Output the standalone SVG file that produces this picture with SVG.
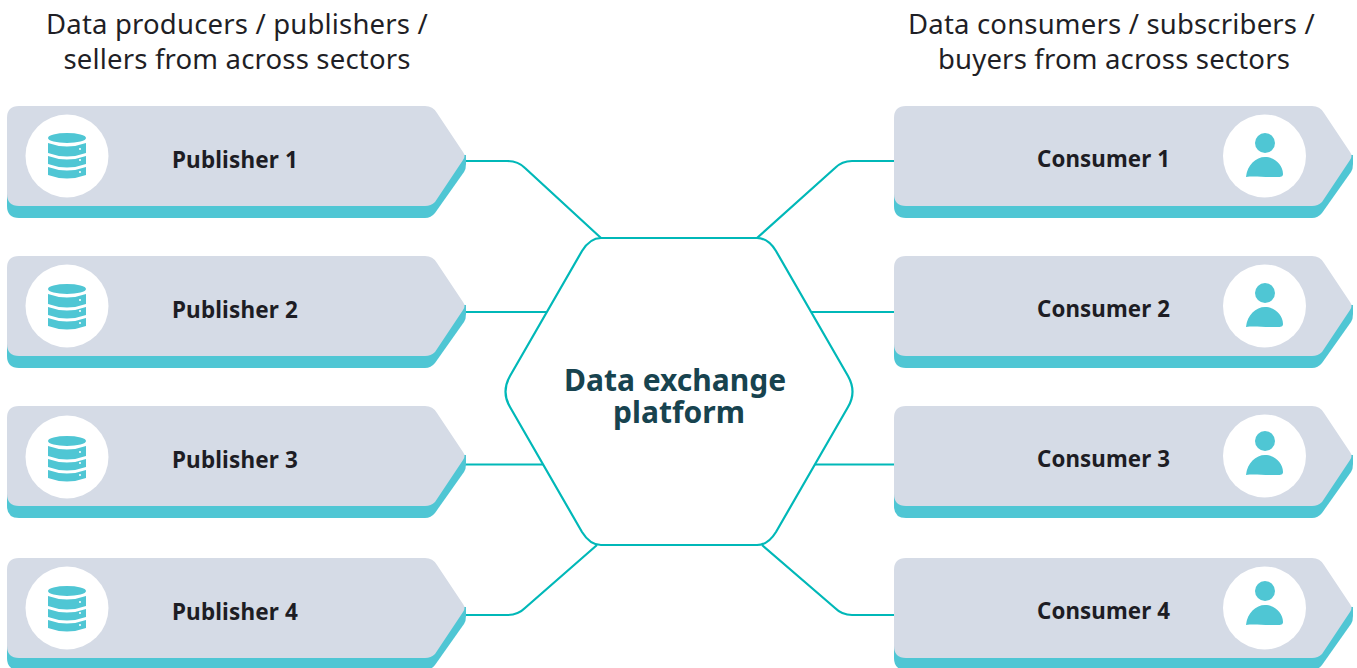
<svg xmlns="http://www.w3.org/2000/svg" width="1357" height="668" viewBox="0 0 1357 668">
<style>
text{font-family:"Noto Sans","Open Sans","Liberation Sans",sans-serif}
.head{font-size:27.5px;letter-spacing:.18px;fill:#1f1f26;text-anchor:middle}
.label{font-size:22.500px;letter-spacing:.15px;font-weight:700;fill:#1d1d24}
.cons{font-size:22.300px;letter-spacing:.1px}
.center{font-size:30px;font-weight:700;fill:#17434f;text-anchor:middle}
.conn{fill:none;stroke:#00b8b8;stroke-width:2.2}
.face{fill:#d5dbe6}
.edge{fill:#4fc6d4}
.disc{fill:#fff}
.hex{fill:#fff;stroke:#00b8b8;stroke-width:2.2}
</style>
<defs>
<g id="boxshape">
<path class="edge" d="M0 22V100Q0 112 12 112H418Q424 112 428 107L457 66Q459 63 459 58V49Z"/>
<path class="face" d="M12 0H418Q426 0 430 7L456 46Q459 50 456 54L428 96Q424 100 418 100H12Q0 100 0 88V12Q0 0 12 0Z"/>
</g>
<g id="db">
<ellipse class="edge" cx="0" cy="-18" rx="19" ry="5"/>
<path class="edge" d="M-19-13Q0-6 19-13V-3Q0 4-19-3Z"/>
<path class="edge" d="M-19 0Q0 7 19 0V8Q0 15-19 8Z"/>
<path class="edge" d="M-19 11Q0 18 19 11V19Q0 26-19 19Z"/>
<circle class="disc" cx="13" cy="-7" r="1"/><circle class="disc" cx="13" cy="4" r="1"/><circle class="disc" cx="13" cy="16" r="1"/>
</g>
<g id="person">
<circle class="edge" cx="0" cy="-12" r="10"/>
<path class="edge" d="M-19 22C-18 10-9 2 0 2C10 2 18 10 18 19C18 23 13 22 5 22C-4 22-12 21-19 22Z"/>
</g>
</defs>

<g id="connectors">
<path class="conn" d="M465 161H507Q518 161 525 168L601 238"/>
<path class="conn" d="M465 312H547"/>
<path class="conn" d="M465 464.500H543"/>
<path class="conn" d="M465 615H507Q518 615 525 608L597 545"/>
<path class="conn" d="M894 161H852Q842 161 835 168L757 238"/>
<path class="conn" d="M894 312H811"/>
<path class="conn" d="M894 464.500H815"/>
<path class="conn" d="M894 615H852Q842 615 835 608L762 545"/>
</g>

<g id="header-left"><text class="head" x="237" y="33.500">Data producers / publishers /</text><text class="head" x="237" y="68.500">sellers from across sectors</text></g>
<g id="header-right"><text class="head" x="1111.500" y="33.500">Data consumers / subscribers /</text><text class="head" x="1114" y="68.500">buyers from across sectors</text></g>

<g id="publisher-1"><use href="#boxshape" x="7" y="106"/><circle class="disc" cx="67" cy="156" r="41.500"/><use href="#db" x="67" y="156"/><text class="label" x="172" y="168">Publisher 1</text></g>
<g id="publisher-2"><use href="#boxshape" x="7" y="256"/><circle class="disc" cx="67" cy="306" r="41.500"/><use href="#db" x="67" y="307"/><text class="label" x="172" y="318">Publisher 2</text></g>
<g id="publisher-3"><use href="#boxshape" x="7" y="406"/><circle class="disc" cx="67" cy="457" r="41.500"/><use href="#db" x="67" y="459"/><text class="label" x="172" y="468">Publisher 3</text></g>
<g id="publisher-4"><use href="#boxshape" x="7" y="558"/><circle class="disc" cx="67" cy="608" r="41.500"/><use href="#db" x="67" y="609"/><text class="label" x="172" y="620">Publisher 4</text></g>

<g id="consumer-1"><use href="#boxshape" x="894" y="106"/><circle class="disc" cx="1264.500" cy="156" r="41.500"/><use href="#person" x="1265" y="155"/><text class="label cons" x="1037" y="167">Consumer 1</text></g>
<g id="consumer-2"><use href="#boxshape" x="894" y="256"/><circle class="disc" cx="1264.500" cy="306" r="41.500"/><use href="#person" x="1265" y="305"/><text class="label cons" x="1037" y="317">Consumer 2</text></g>
<g id="consumer-3"><use href="#boxshape" x="894" y="406"/><circle class="disc" cx="1264.500" cy="456" r="41.500"/><use href="#person" x="1265" y="453"/><text class="label cons" x="1037" y="467">Consumer 3</text></g>
<g id="consumer-4"><use href="#boxshape" x="894" y="558"/><circle class="disc" cx="1264.500" cy="608" r="41.500"/><use href="#person" x="1265" y="603"/><text class="label cons" x="1037" y="619">Consumer 4</text></g>

<g id="platform">
<path class="hex" d="M601 238H757Q768 238 776 251L848 376Q857 392 848 407L776 532Q768 545 757 545H601Q590 545 582 532L510 407Q501 392 510 376L582 251Q590 238 601 238Z"/>
<text class="center"><tspan x="675" y="391">Data exchange</tspan><tspan x="679" y="423">platform</tspan></text>
</g>
</svg>
